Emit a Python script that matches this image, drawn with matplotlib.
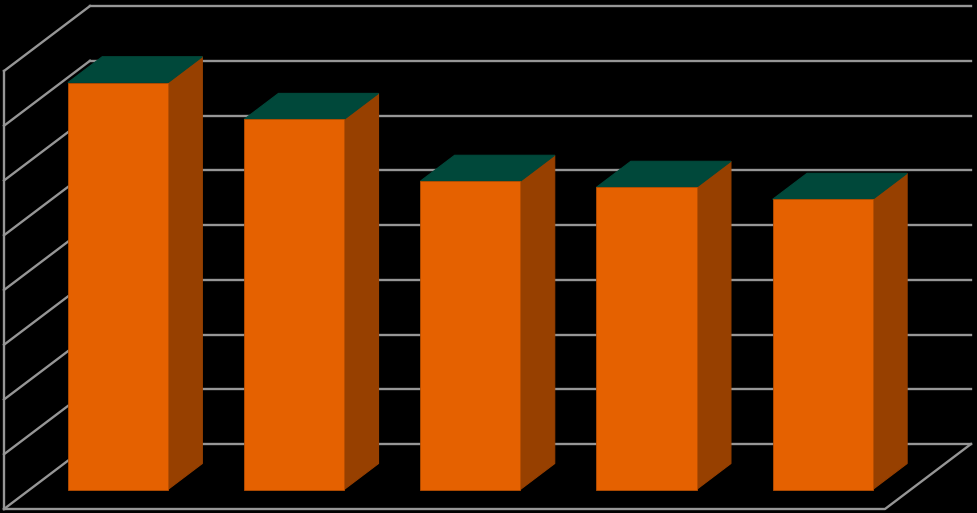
import matplotlib
matplotlib.use("Agg")
import matplotlib.pyplot as plt
from matplotlib.patches import Polygon

# bar values (axis runs 0..8, gridline every 1)
categories = ["A", "B", "C", "D", "E"]
values = [7.43, 6.76, 5.63, 5.52, 5.30]
gridlines = list(range(0, 9))

# oblique 3D look: depth vector in data units
DX, DY = 0.488, 1.187
BAR_W = 0.568
Z0, Z1 = 0.3, 0.7

front_col = "#E56100"
side_col = "#974000"
top_col = "#00483A"
grid_col = "#969696"


def proj(x, y, z):
    return (x + z * DX, y + z * DY)


fig = plt.figure(figsize=(9.77, 5.13), dpi=100, facecolor="black")
ax = fig.add_axes([0, 0, 1, 1])
ax.set_facecolor("black")
ax.set_xlim(-4 / 176.2, 973 / 176.2)
ax.set_ylim(-4 / 54.75, 509 / 54.75)
ax.axis("off")

n = len(categories)
top = gridlines[-1]
lw = 1.7

# walls and floor
for g in gridlines:
    # back wall line
    p0, p1 = proj(0, g, 1), proj(n, g, 1)
    ax.plot([p0[0], p1[0]], [p0[1], p1[1]], color=grid_col, lw=lw, zorder=1)
    # side wall line
    q0, q1 = proj(0, g, 0), proj(0, g, 1)
    ax.plot([q0[0], q1[0]], [q0[1], q1[1]], color=grid_col, lw=lw, zorder=1)
a, b = proj(0, 0, 0), proj(0, top, 0)
ax.plot([a[0], b[0]], [a[1], b[1]], color=grid_col, lw=lw, zorder=1)
a, b, c = proj(0, 0, 0), proj(n, 0, 0), proj(n, 0, 1)
ax.plot([a[0], b[0], c[0]], [a[1], b[1], c[1]], color=grid_col, lw=lw, zorder=1)

# bars
for i, v in enumerate(values):
    x0 = i + (1 - BAR_W) / 2
    x1 = x0 + BAR_W
    front = [proj(x0, 0, Z0), proj(x1, 0, Z0), proj(x1, v, Z0), proj(x0, v, Z0)]
    side = [proj(x1, 0, Z0), proj(x1, 0, Z1), proj(x1, v, Z1), proj(x1, v, Z0)]
    topf = [proj(x0, v, Z0), proj(x1, v, Z0), proj(x1, v, Z1), proj(x0, v, Z1)]
    ax.add_patch(Polygon(side, closed=True, facecolor=side_col, edgecolor=side_col,
                         lw=0.8, zorder=3))
    ax.add_patch(Polygon(topf, closed=True, facecolor=top_col, edgecolor=top_col,
                         lw=0.8, zorder=3))
    ax.add_patch(Polygon(front, closed=True, facecolor=front_col, edgecolor="#B84E00",
                         lw=0.6, zorder=4))

fig.savefig("out.png", dpi=100, facecolor="black")
